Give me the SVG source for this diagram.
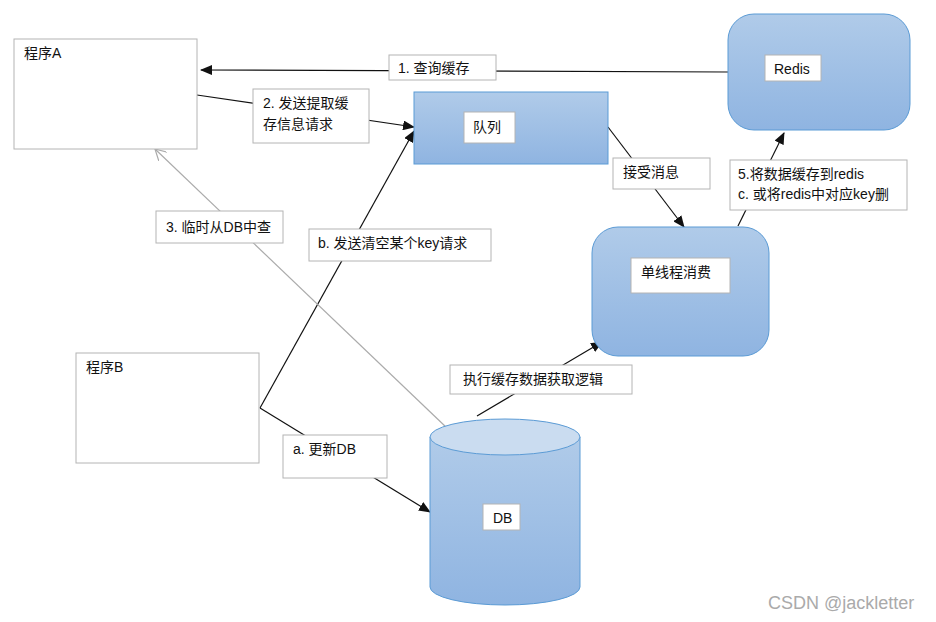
<svg xmlns="http://www.w3.org/2000/svg" width="936" height="622" viewBox="0 0 936 622">
<style>
text{font-family:"Liberation Sans","Noto Sans CJK SC",sans-serif;font-size:14px;fill:#111}
.box{fill:#fff;stroke:#b4b4b4;stroke-width:1}
.blue{fill:url(#g);stroke:#5b9bd5;stroke-width:1}
.ln{stroke:#111;stroke-width:1.2;fill:none}
.gl{stroke:#ababab;stroke-width:1.2;fill:none}
</style>
<defs>
<linearGradient id="g" x1="0" y1="0" x2="0" y2="1"><stop offset="0" stop-color="#b0cbe9"/><stop offset="1" stop-color="#8fb4e1"/></linearGradient>
<marker id="a" markerWidth="12" markerHeight="10" refX="11" refY="5" orient="auto" markerUnits="userSpaceOnUse"><path d="M0,0 L12,5 L0,10 z" fill="#111"/></marker>
<marker id="o" markerWidth="12" markerHeight="12" refX="11" refY="6" orient="auto" markerUnits="userSpaceOnUse"><path d="M0,0 L11,6 L0,12" fill="none" stroke="#ababab" stroke-width="1.2"/></marker>
</defs>
<g id="connectors">
<line class="ln" x1="728" y1="72" x2="201" y2="70" marker-end="url(#a)"/>
<line class="ln" x1="197" y1="95" x2="414" y2="127" marker-end="url(#a)"/>
<polyline class="ln" points="260,408 414,131" marker-end="url(#a)"/>
<line class="ln" x1="260" y1="408" x2="430" y2="512" marker-end="url(#a)"/>
<line class="gl" x1="447" y1="428" x2="155" y2="149" marker-end="url(#o)"/>
<line class="ln" x1="608" y1="127" x2="684" y2="227" marker-end="url(#a)"/>
<line class="ln" x1="738" y1="226" x2="784" y2="133" marker-end="url(#a)"/>
<line class="ln" x1="477" y1="416" x2="602" y2="342" marker-end="url(#a)"/>
</g>
<g id="progA"><rect class="box" x="14" y="39" width="183" height="110"/><text x="24" y="58">程序A</text></g>
<g id="progB"><rect class="box" x="76" y="353" width="183" height="110"/><text x="86" y="372">程序B</text></g>
<g id="queue"><rect class="blue" x="414" y="92" width="194" height="72"/><rect class="box" x="464" y="112" width="51" height="31"/><text x="473" y="132">队列</text></g>
<g id="redis"><rect class="blue" x="728" y="14" width="182" height="116" rx="26"/><rect class="box" x="765" y="55" width="56" height="26"/><text x="774" y="74">Redis</text></g>
<g id="consumer"><rect class="blue" x="592" y="227" width="177" height="129" rx="26"/><rect class="box" x="631" y="258" width="99" height="35"/><text x="641" y="277">单线程消费</text></g>
<g id="db">
<path class="blue" d="M430,437 L430,587 A75,18 0 0 0 580,587 L580,437 Z"/>
<ellipse cx="505" cy="437" rx="75" ry="18" fill="#cadcf0" stroke="#5b9bd5" stroke-width="1"/>
<rect class="box" x="483" y="504" width="37" height="26"/><text x="493" y="523">DB</text>
</g>
<g id="labels">
<rect class="box" x="389" y="55" width="107" height="25"/><text x="398" y="73">1. 查询缓存</text>
<rect class="box" x="253" y="89" width="116" height="54"/><text x="263" y="108">2. 发送提取缓</text><text x="263" y="129">存信息请求</text>
<rect class="box" x="156" y="211" width="127" height="32"/><text x="166" y="232">3. 临时从DB中查</text>
<rect class="box" x="309" y="229" width="182" height="32"/><text x="318" y="248">b. 发送清空某个key请求</text>
<rect class="box" x="283" y="435" width="104" height="43"/><text x="293" y="454">a. 更新DB</text>
<rect class="box" x="613" y="158" width="97" height="31"/><text x="623" y="177">接受消息</text>
<rect class="box" x="730" y="160" width="177" height="50"/><text x="738" y="179">5.将数据缓存到redis</text><text x="738" y="199">c. 或将redis中对应key删</text>
<rect class="box" x="450" y="365" width="182" height="29"/><text x="463" y="384">执行缓存数据获取逻辑</text>
</g>
<text x="768" y="609" style="font-size:18px;fill:#aaa">CSDN @jackletter</text>
</svg>
